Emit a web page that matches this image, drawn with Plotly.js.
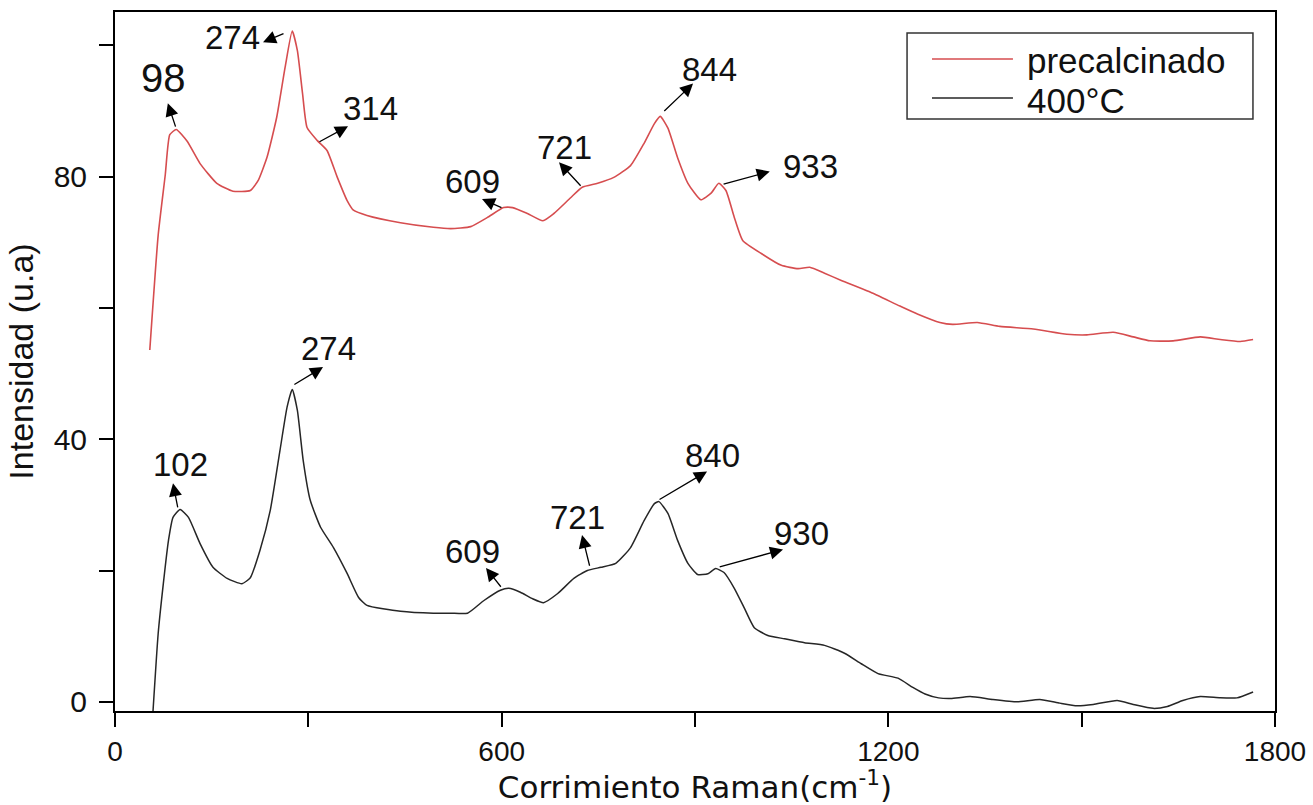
<!DOCTYPE html>
<html>
<head>
<meta charset="utf-8">
<script src="https://cdn.plot.ly/plotly-3.0.1.min.js"></script>
<style>html,body{margin:0;padding:0;background:#fff;}#chart{width:1313px;height:805px;}</style>
</head>
<body>
<div id="chart"></div>
<script>
// Series: precalcinado (red)
const ramanShiftPre = [54,67,78,85,95,112,132,158,183,210,222,236,251,264,275,283,291,298,314,329,345,360,370,391,443,494,521,552,578,603,617,640,664,681,707,725,749,774,800,821,837,846,858,873,889,909,925,937,948,961,974,1003,1034,1060,1078,1101,1127,1170,1218,1245,1280,1300,1338,1373,1425,1477,1508,1549,1580,1606,1642,1684,1715,1746,1766];
const intensityPre = [53.6,71.1,80.3,86.4,87.2,85.4,82.0,79.0,77.8,77.9,79.4,83.0,89.1,96.7,102.2,99.2,92.7,87.5,85.5,84.0,79.9,76.4,74.9,74.1,73.0,72.3,72.1,72.4,73.8,75.3,75.3,74.4,73.3,74.4,76.8,78.4,79.0,79.9,81.7,85.1,88.1,89.2,87.4,82.9,79.0,76.5,77.5,79.0,77.9,73.8,70.3,68.3,66.5,66.0,66.2,65.3,64.2,62.5,60.3,59.1,57.8,57.5,57.8,57.2,56.8,56.0,55.9,56.3,55.6,55.0,55.0,55.6,55.2,54.9,55.2];

// Series: 400°C (black)
const ramanShift400 = [59,67,75,83,90,101,114,132,152,174,197,210,225,241,256,267,275,283,292,303,319,339,360,378,391,443,494,521,547,572,598,611,629,648,665,687,712,733,754,777,800,821,837,844,858,873,889,904,920,932,945,961,976,992,1013,1039,1070,1101,1132,1158,1184,1215,1238,1257,1278,1297,1327,1362,1400,1435,1466,1493,1518,1555,1580,1611,1633,1657,1684,1715,1741,1766];
const intensity400 = [-1.4,10.4,18.0,24.6,28.1,29.3,28.1,24.1,20.5,18.8,18.0,18.9,23.1,29.2,38.3,44.9,47.6,44.4,36.8,30.7,26.6,23.5,19.6,15.9,14.7,13.8,13.5,13.5,13.5,15.4,17.0,17.3,16.7,15.7,15.1,16.5,18.8,20.0,20.5,21.1,23.5,27.6,30.2,30.5,28.7,24.6,21.1,19.4,19.5,20.3,19.7,17.3,14.4,11.3,10.1,9.6,9.0,8.6,7.4,5.8,4.3,3.6,2.2,1.2,0.6,0.5,0.8,0.35,0.0,0.35,-0.2,-0.6,-0.4,0.2,-0.4,-1.0,-0.7,0.2,0.8,0.6,0.6,1.5];

// Axis ticks (labelled major ticks, unlabelled minor ticks in between)
const xMajorStep = 600, xMinorStep = 300;
const yMajorStep = 40, yMinorStep = 20;

// Peak labels
const peakLabelsPre = ['98','274','314','609','721','844','933'];
const peakLabels400 = ['102','274','609','721','840','930'];
const seriesNames = ['precalcinado','400°C'];

// Label placement (text position, arrow head, arrow tail) in data units
const placePre = [
  {tx:74.5, ty:95.0, hx:82, hy:91.2, sx:94.7, sy:87.4, fs:40},
  {tx:183, ty:101.2, hx:229.7, hy:100.5, sx:263.8, sy:101.9},
  {tx:397, ty:90.4, hx:361.6, hy:87.7, sx:315, sy:85.2},
  {tx:554, ty:79.3, hx:569.5, hy:76.6, sx:602, sy:75.2},
  {tx:697, ty:84.5, hx:689, hy:82.2, sx:724.7, sy:78.4},
  {tx:922, ty:96.4, hx:897, hy:94.2, sx:850, sy:89.8},
  {tx:1078.5, ty:81.6, hx:1016, hy:80.8, sx:942, sy:78.8}
];
const place400 = [
  {tx:102.4, ty:36.2, hx:90, hy:33.3, sx:97.8, sy:29.4},
  {tx:332, ty:53.8, hx:322.8, hy:51.0, sx:276, sy:48.2},
  {tx:554, ty:22.9, hx:575.7, hy:20.4, sx:600.6, sy:17.3},
  {tx:717, ty:28.1, hx:724.7, hy:25.4, sx:737, sy:20.5},
  {tx:926.4, ty:37.5, hx:918.7, hy:35.1, sx:842.6, sy:30.7},
  {tx:1066, ty:25.6, hx:1036.6, hy:23.2, sx:936, sy:20.5}
];

const RED = '#d64d4f';
const BLACK = '#262626';
const NUMFONT = 'Liberation Sans, Arial, sans-serif';

const traces = [
  {x: ramanShiftPre, y: intensityPre, name: seriesNames[0], type:'scatter', mode:'lines',
   line:{color:RED, width:1.6, shape:'spline', smoothing:0.5}},
  {x: ramanShift400, y: intensity400, name: seriesNames[1], type:'scatter', mode:'lines',
   line:{color:BLACK, width:1.5, shape:'spline', smoothing:0.5}}
];

const annotations = [];
function addLabels(labels, place) {
  labels.forEach((lab, i) => {
    const p = place[i];
    annotations.push({x:p.tx, y:p.ty, xref:'x', yref:'y', text:lab, showarrow:false,
      xanchor:'center', yanchor:'middle', font:{family:NUMFONT, size:p.fs || 33, color:'#111'}});
    annotations.push({x:p.hx, y:p.hy, ax:p.sx, ay:p.sy, xref:'x', yref:'y', axref:'x', ayref:'y',
      text:'', showarrow:true, arrowhead:2, arrowsize:2, arrowwidth:1.3, arrowcolor:'#000', standoff:0, startstandoff:0});
  });
}
addLabels(peakLabelsPre, placePre);
addLabels(peakLabels400, place400);

// Legend (drawn manually to match the reference's long line samples)
const legShapes = [
  {type:'rect', xref:'paper', yref:'paper', x0:0.6828, x1:0.981, y0:0.8469, y1:0.970,
   line:{color:'#333', width:1.5}, fillcolor:'rgba(255,255,255,0)'},
  {type:'line', xref:'paper', yref:'paper', x0:0.7043, x1:0.7741, y0:0.9328, y1:0.9328, line:{color:RED, width:1.6}},
  {type:'line', xref:'paper', yref:'paper', x0:0.7043, x1:0.7741, y0:0.8770, y1:0.8770, line:{color:BLACK, width:1.5}}
];
annotations.push({xref:'paper', yref:'paper', x:0.7845, y:0.9300, text:seriesNames[0], showarrow:false,
  xanchor:'left', yanchor:'middle', font:{family:NUMFONT, size:35, color:'#111'}});
annotations.push({xref:'paper', yref:'paper', x:0.7845, y:0.8740, text:seriesNames[1], showarrow:false,
  xanchor:'left', yanchor:'middle', font:{family:NUMFONT, size:35, color:'#111'}});

const layout = {
  width:1313, height:805,
  margin:{l:115, r:38, t:12, b:94},
  paper_bgcolor:'#fff', plot_bgcolor:'#fff',
  showlegend:false,
  xaxis:{
    range:[0,1800], tick0:0, dtick:xMajorStep,
    ticks:'outside', ticklen:14, tickwidth:2, tickcolor:'#000',
    minor:{dtick:xMinorStep, ticks:'outside', ticklen:14, tickwidth:2, tickcolor:'#000', showgrid:false},
    showline:true, linecolor:'#000', linewidth:2, mirror:true,
    showgrid:false, zeroline:false,
    tickfont:{family:NUMFONT, size:28, color:'#111'},
    title:{text:'Corrimiento Raman(cm<sup>-1</sup>)', font:{family:'DejaVu Sans, sans-serif', size:31, color:'#111'}, standoff:15}
  },
  yaxis:{
    range:[-1.4,105.1], tick0:0, dtick:yMajorStep,
    ticks:'outside', ticklen:14, tickwidth:2, tickcolor:'#000',
    minor:{dtick:yMinorStep, ticks:'outside', ticklen:14, tickwidth:2, tickcolor:'#000', showgrid:false},
    showline:true, linecolor:'#000', linewidth:2, mirror:true,
    showgrid:false, zeroline:false, ticklabelstandoff:6,
    tickfont:{family:NUMFONT, size:30, color:'#111'},
    title:{text:'Intensidad (u.a)', font:{family:NUMFONT, size:34, color:'#111'}, standoff:10}
  },
  annotations: annotations,
  shapes: legShapes
};

Plotly.newPlot('chart', traces, layout, {staticPlot:true, displayModeBar:false});
</script>
</body>
</html>
